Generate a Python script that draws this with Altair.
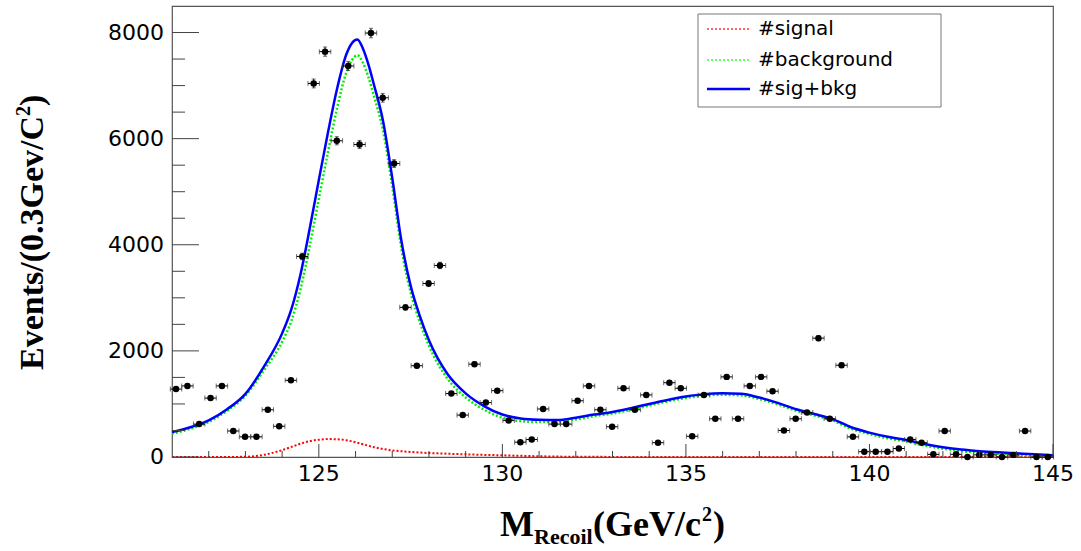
import altair as alt
import numpy as np
import pandas as pd

# Recoil-mass histogram: bin centres (GeV/c^2) and event counts
bin_center = [
    121.11, 121.42, 121.74, 122.05, 122.36, 122.67, 122.99, 123.30, 123.61, 123.92,
    124.24, 124.55, 124.86, 125.17, 125.49, 125.80, 126.11, 126.42, 126.74, 127.05,
    127.36, 127.67, 127.99, 128.30, 128.61, 128.92, 129.24, 129.55, 129.86, 130.17,
    130.49, 130.80, 131.11, 131.42, 131.74, 132.05, 132.36, 132.67, 132.99, 133.30,
    133.61, 133.92, 134.24, 134.55, 134.86, 135.17, 135.49, 135.80, 136.11, 136.42,
    136.74, 137.05, 137.36, 137.67, 137.99, 138.30, 138.61, 138.92, 139.24, 139.55,
    139.86, 140.17, 140.49, 140.80, 141.11, 141.42, 141.74, 142.05, 142.36, 142.67,
    142.99, 143.30, 143.61, 143.92, 144.24, 144.55, 144.86,
]
counts = [
    1280, 1340, 620, 1110, 1340, 490, 380, 380, 890, 580,
    1445, 3780, 7040, 7640, 5960, 7370, 5890, 7990, 6770, 5530,
    2820, 1720, 3270, 3610, 1195, 790, 1750, 1025, 1250, 690,
    280, 330, 905, 620, 620, 1060, 1340, 890, 570, 1295,
    890, 1170, 270, 1400, 1295, 390, 1170, 720, 1510, 720,
    1340, 1510, 1240, 500, 720, 840, 2240, 720, 1730, 380,
    100, 100, 100, 160, 330, 270, 50, 490, 50, 0,
    40, 40, 0, 40, 490, 0, 0,
]
half_bin = 0.156

# Fitted PDFs sampled along the recoil mass
curve_mass = [
    121.0, 121.5, 122.0, 122.5, 123.0, 123.5, 124.0, 124.25, 124.5, 124.75,
    125.0, 125.25, 125.5, 125.75, 125.9, 126.05, 126.2, 126.35, 126.5, 126.75,
    127.0, 127.25, 127.5, 127.75, 128.0, 128.5, 129.0, 129.5, 130.0, 130.5,
    131.0, 131.5, 132.0, 132.5, 133.0, 133.5, 134.0, 134.5, 135.0, 135.5,
    136.0, 136.5, 137.0, 137.5, 138.0, 138.5, 139.0, 139.5, 140.0, 140.5,
    141.0, 141.5, 142.0, 142.5, 143.0, 143.5, 144.0, 144.5, 145.0,
]
sig_bkg = [
    470, 560, 690, 900, 1190, 1700, 2330, 2780, 3440, 4300,
    5220, 6120, 6950, 7590, 7800, 7870, 7700, 7400, 7020, 6330,
    5260, 4070, 3230, 2660, 2200, 1570, 1200, 960, 800, 725,
    700, 695, 740, 800, 850, 920, 1000, 1075, 1140, 1185,
    1200, 1190, 1120, 1020, 900, 810, 715, 560, 460, 380,
    320, 245, 185, 140, 110, 88, 70, 52, 35,
]
background = [
    470, 560, 690, 900, 1185, 1660, 2200, 2590, 3190, 4000,
    4895, 5780, 6615, 7275, 7505, 7600, 7460, 7190, 6835, 6180,
    5135, 3960, 3135, 2575, 2125, 1510, 1150, 920, 770, 705,
    686, 687, 735, 797, 848, 919, 999, 1075, 1140, 1185,
    1200, 1190, 1120, 1020, 900, 810, 715, 560, 460, 380,
    320, 245, 185, 140, 110, 88, 70, 52, 35,
]
signal = [
    0, 0, 0, 0, 5, 40, 130, 190, 250, 300,
    325, 338, 335, 315, 295, 268, 240, 212, 185, 150,
    125, 108, 95, 84, 75, 62, 50, 40, 32, 22,
    14, 8, 5, 3, 2, 1, 1, 0, 0, 0,
    0, 0, 0, 0, 0, 0, 0, 0, 0, 0,
    0, 0, 0, 0, 0, 0, 0, 0, 0,
]

# Axis tick positions and labels
y_major = [0, 2000, 4000, 6000, 8000]
y_minor = [500, 1000, 1500, 2500, 3000, 3500, 4500, 5000, 5500, 6500, 7000, 7500]
x_major = [125, 130, 135, 140, 145]
x_minor = [122, 123, 124, 126, 127, 128, 129, 131, 132, 133, 134,
           136, 137, 138, 139, 141, 142, 143, 144]

legend_labels = ["#signal", "#background", "#sig+bkg"]

W, H = 881, 451
SANS = "DejaVu Sans"
SERIF = "Liberation Serif"

hist = pd.DataFrame({"mass": bin_center, "events": counts})
hist["err"] = np.sqrt(hist["events"])
hist["lo"] = hist["events"] - hist["err"]
hist["hi"] = hist["events"] + hist["err"]
hist["xlo"] = hist["mass"] - half_bin
hist["xhi"] = hist["mass"] + half_bin

curves = pd.DataFrame({"mass": curve_mass, "sb": sig_bkg,
                       "bkg": background, "sig": signal})

xs = alt.Scale(domain=[121, 145], nice=False, zero=False)
ys = alt.Scale(domain=[0, 8500], nice=False)


def X(field):
    return alt.X(field, scale=xs, axis=None)


def Y(field):
    return alt.Y(field, scale=ys, axis=None)


base = alt.Chart(hist)

# fitted curves
sig_line = alt.Chart(curves).mark_line(
    color="#ff0000", strokeWidth=2, strokeDash=[2, 2], interpolate="monotone"
).encode(x=X("mass:Q"), y=Y("sig:Q"))
bkg_line = alt.Chart(curves).mark_line(
    color="#00ee00", strokeWidth=2.5, strokeDash=[2, 2], interpolate="monotone",
    yOffset=1.5
).encode(x=X("mass:Q"), y=Y("bkg:Q"))
sb_line = alt.Chart(curves).mark_line(
    color="#0000ff", strokeWidth=2.5, interpolate="monotone"
).encode(x=X("mass:Q"), y=Y("sb:Q"))

# data points with error bars
hbar = base.mark_rule(color="black", strokeWidth=1).encode(
    x=X("xlo:Q"), x2="xhi:Q", y=Y("events:Q"))
vbar = base.mark_rule(color="black", strokeWidth=1).encode(
    x=X("mass:Q"), y=Y("lo:Q"), y2="hi:Q")
cap_l = base.mark_tick(orient="vertical", size=5, thickness=1, color="#333").encode(
    x=X("xlo:Q"), y=Y("events:Q"))
cap_r = base.mark_tick(orient="vertical", size=5, thickness=1, color="#333").encode(
    x=X("xhi:Q"), y=Y("events:Q"))
cap_t = base.mark_tick(orient="horizontal", size=4, thickness=1, color="#333").encode(
    x=X("mass:Q"), y=Y("hi:Q"))
cap_b = base.mark_tick(orient="horizontal", size=4, thickness=1, color="#333").encode(
    x=X("mass:Q"), y=Y("lo:Q"))
points = base.mark_point(filled=True, shape="circle", size=42, color="black",
                         opacity=1).encode(x=X("mass:Q"), y=Y("events:Q"))


# inward ticks on the left and bottom frame edges, with their labels
def yticks(vals, length):
    return alt.Chart(pd.DataFrame({"v": vals})).mark_rule(
        color="#444", strokeWidth=1).encode(
        y=Y("v:Q"), x=alt.value(0), x2=alt.value(length))


def xticks(vals, length):
    return alt.Chart(pd.DataFrame({"v": vals})).mark_rule(
        color="#444", strokeWidth=1).encode(
        x=X("v:Q"), y=alt.value(H), y2=alt.value(H - length))


ylabels = alt.Chart(pd.DataFrame({"v": y_major})).mark_text(
    font=SANS, fontSize=22, align="right", baseline="middle", color="black"
).encode(y=Y("v:Q"), x=alt.value(-8), text=alt.Text("v:Q", format="d"))
xlabels = alt.Chart(pd.DataFrame({"v": x_major})).mark_text(
    font=SANS, fontSize=22, align="center", baseline="top", color="black"
).encode(x=X("v:Q"), y=alt.value(H + 7), text=alt.Text("v:Q", format="d"))

one = pd.DataFrame({"k": [0]})


def text(s, x, y, size, font=SERIF, weight="bold", angle=0, align="left",
         baseline="alphabetic"):
    return alt.Chart(one).mark_text(
        font=font, fontSize=size, fontWeight=weight, angle=angle, align=align,
        baseline=baseline, color="black"
    ).encode(x=alt.value(x), y=alt.value(y), text=alt.value(s))


# axis titles built from pieces for sub/superscripts
x_title = [
    text("M", 328, 530, 36),
    text("Recoil", 362, 538, 22),
    text("(GeV/c", 421, 530, 36),
    text("2", 530, 515, 20),
    text(")", 541, 530, 36),
]
y_title = [
    text("Events/(0.3Gev/C", -129, 364, 34, angle=270),
    text("2", -142, 110, 20, angle=270),
    text(")", -129, 100, 34, angle=270),
]

# legend
leg_box = alt.Chart(one).mark_rect(fill="white", stroke="#777", strokeWidth=1).encode(
    x=alt.value(526), x2=alt.value(769), y=alt.value(8), y2=alt.value(101))
leg_sig = alt.Chart(one).mark_rule(color="#ff6666", strokeWidth=2, strokeDash=[2, 2]).encode(
    x=alt.value(535), x2=alt.value(578), y=alt.value(23))
leg_bkg = alt.Chart(one).mark_rule(color="#66ff66", strokeWidth=2, strokeDash=[2, 2]).encode(
    x=alt.value(535), x2=alt.value(578), y=alt.value(54))
leg_sb = alt.Chart(one).mark_rule(color="#0000ff", strokeWidth=2.5).encode(
    x=alt.value(535), x2=alt.value(578), y=alt.value(83))
leg_text = [
    text(lbl, 586, yy, 20, font=SANS, weight="normal", baseline="middle")
    for lbl, yy in zip(legend_labels, [23, 54, 83])
]

chart = alt.layer(
    sig_line, bkg_line, sb_line,
    hbar, vbar, cap_l, cap_r, cap_t, cap_b, points,
    yticks(y_major, 27), yticks(y_minor, 13), xticks(x_major, 13), xticks(x_minor, 6),
    ylabels, xlabels,
    leg_box, leg_sig, leg_bkg, leg_sb, *leg_text,
    *x_title, *y_title,
).properties(
    width=W, height=H,
    autosize=alt.AutoSizeParams(type="none"),
    padding={"left": 172, "top": 6, "right": 28, "bottom": 94},
    background="white",
).configure_view(stroke="#555", strokeWidth=1.2)

chart.save("out.html", embed_options={"renderer": "svg", "actions": False})
